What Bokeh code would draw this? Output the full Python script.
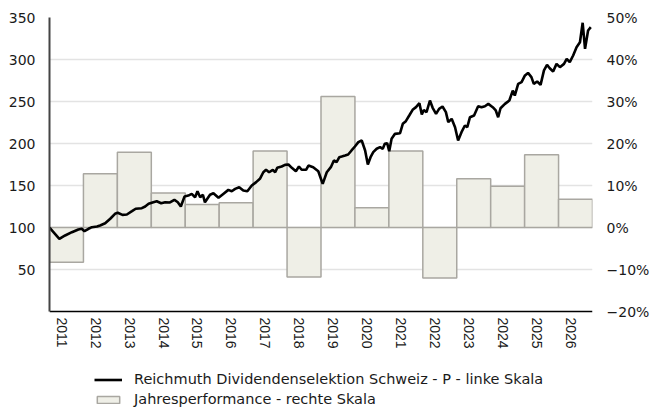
from bokeh.plotting import figure
from bokeh.models import Range1d, LinearAxis, FixedTicker, Legend, LegendItem, ColumnDataSource
from bokeh.embed import file_html
from bokeh.resources import INLINE
import math

# Annual performance (right scale, %)
years = [2011, 2012, 2013, 2014, 2015, 2016, 2017, 2018, 2019, 2020, 2021, 2022, 2023, 2024, 2025, 2026]
perf = [-8.3, 12.8, 17.9, 8.2, 5.5, 5.9, 18.2, -11.8, 31.2, 4.7, 18.2, -12.0, 11.6, 9.8, 17.3, 6.7]

# Fund price (left scale), dates as decimal years
line_t = [2011.00, 2011.29, 2011.46, 2011.66, 2011.85, 2011.95, 2012.03, 2012.15, 2012.25, 2012.40,
          2012.49, 2012.64, 2012.79, 2012.93, 2013.01, 2013.15, 2013.28, 2013.43, 2013.54, 2013.72,
          2013.82, 2013.92, 2014.06, 2014.16, 2014.29, 2014.41, 2014.55, 2014.68, 2014.78, 2014.87,
          2014.98, 2015.09, 2015.19, 2015.29, 2015.36, 2015.44, 2015.52, 2015.58, 2015.73, 2015.83,
          2015.98, 2016.12, 2016.27, 2016.37, 2016.47, 2016.59, 2016.71, 2016.83, 2016.96, 2017.09,
          2017.20, 2017.30, 2017.38, 2017.47, 2017.58, 2017.65, 2017.71, 2017.84, 2017.94, 2018.04,
          2018.14, 2018.26, 2018.35, 2018.43, 2018.56, 2018.63, 2018.77, 2018.92, 2019.05, 2019.17,
          2019.29, 2019.38, 2019.46, 2019.54, 2019.61, 2019.71, 2019.80, 2019.90, 2020.00, 2020.10,
          2020.20, 2020.30, 2020.38, 2020.46, 2020.54, 2020.64, 2020.74, 2020.82, 2020.88, 2020.95,
          2021.01, 2021.08, 2021.18, 2021.33, 2021.41, 2021.50, 2021.60, 2021.70, 2021.80, 2021.90,
          2021.97, 2022.03, 2022.11, 2022.21, 2022.29, 2022.39, 2022.48, 2022.58, 2022.68, 2022.75,
          2022.85, 2022.95, 2023.04, 2023.14, 2023.24, 2023.31, 2023.39, 2023.51, 2023.63, 2023.73,
          2023.83, 2023.93, 2024.06, 2024.15, 2024.22, 2024.29, 2024.42, 2024.55, 2024.65, 2024.71,
          2024.81, 2024.91, 2025.01, 2025.10, 2025.20, 2025.27, 2025.37, 2025.47, 2025.57, 2025.66,
          2025.74, 2025.84, 2025.94, 2026.04, 2026.16, 2026.24, 2026.33, 2026.43, 2026.53, 2026.63,
          2026.71, 2026.78, 2026.87, 2026.95]
line_v = [100.0, 86.5, 90.5, 94.4, 97.6, 98.5, 95.6, 98.5, 100.4, 101.2,
          102.4, 105.0, 110.4, 116.3, 117.5, 115.0, 115.5, 119.4, 122.3, 123.0,
          125.0, 128.2, 130.1, 131.3, 128.9, 130.1, 129.8, 133.0, 130.0, 125.0,
          137.0, 138.0, 140.0, 136.0, 143.2, 136.0, 139.0, 130.0, 139.0, 140.8,
          135.4, 140.0, 144.8, 143.2, 146.0, 148.0, 144.0, 143.2, 150.0, 154.0,
          158.0, 165.8, 168.7, 165.8, 168.7, 165.8, 171.0, 172.6, 174.6, 175.0,
          171.0, 167.0, 172.6, 168.7, 168.7, 173.8, 171.8, 167.0, 152.0, 165.8,
          171.8, 179.8, 177.8, 183.7, 184.5, 185.7, 186.9, 191.7, 196.4, 201.6,
          203.6, 191.7, 175.0, 183.7, 189.7, 193.7, 195.6, 193.7, 199.6, 200.4,
          190.8, 205.6, 211.5, 212.3, 223.4, 226.6, 233.3, 240.1, 243.3, 248.0,
          234.5, 240.0, 237.3, 251.2, 242.5, 235.3, 241.3, 244.0, 237.3, 225.4,
          229.4, 219.4, 203.6, 213.5, 221.4, 219.4, 231.3, 233.3, 244.4, 243.2,
          244.4, 247.2, 243.2, 239.3, 231.3, 242.0, 247.2, 251.2, 263.0, 257.0,
          271.0, 273.0, 281.0, 284.0, 279.0, 271.0, 273.8, 269.8, 287.0, 293.7,
          289.6, 285.7, 294.8, 290.9, 294.8, 300.8, 296.8, 304.8, 314.6, 320.6,
          343.7, 312.7, 334.5, 338.5]

left_ticks = [50, 100, 150, 200, 250, 300, 350]
right_ticks = [-20, -10, 0, 10, 20, 30, 40, 50]
right_labels = ["\u221220%", "\u221210%", "0%", "10%", "20%", "30%", "40%", "50%"]

FONT = "DejaVu Sans"
XFONT = "Liberation Sans"
TXT = "#1a1a1a"

# x coordinate is shifted so that the year labels sit at integer ticks
SHIFT = 0.36

# frame runs to the bottom of the page; the value axes are drawn only over 0..350 / -20..50 %
W, H = 652, 407
TOP, LEFT, RIGHT = 17, 49, 60
PLOT_H = 294                      # height of the 0..350 band
LOW = 350.0 * (H - TOP - PLOT_H) / PLOT_H   # extra room below 0 for labels and legend
PCT_LOW = 70.0 * (H - TOP - PLOT_H) / PLOT_H

p = figure(width=W, height=H, output_backend="svg", toolbar_location=None,
           x_range=Range1d(years[0] - SHIFT, years[-1] + 1 - SHIFT),
           y_range=Range1d(-LOW, 350),
           min_border_left=LEFT, min_border_right=RIGHT, min_border_top=TOP, min_border_bottom=0)
p.outline_line_color = None
p.extra_y_ranges = {"pct": Range1d(-20 - PCT_LOW, 50)}

bar_src = ColumnDataSource(dict(x=[y + 0.5 - SHIFT for y in years], top=perf))
bars = p.vbar(x="x", top="top", bottom=0, width=1.0, source=bar_src, y_range_name="pct",
              fill_color="#efefe7", line_color="#a9a7a1", line_width=1.5)

line_src = ColumnDataSource(dict(t=[t - SHIFT for t in line_t], v=line_v))
ln = p.line(x="t", y="v", source=line_src, line_color="black", line_width=2.6)

# grid
p.xgrid.visible = False
p.ygrid.ticker = FixedTicker(ticks=left_ticks)
p.ygrid.grid_line_color = "#e3e3e3"
p.ygrid.grid_line_width = 1.5

# left axis
ya = p.yaxis[0]
ya.ticker = FixedTicker(ticks=left_ticks)
ya.bounds = (0, 350)
ya.axis_line_color = "#444444"
ya.axis_line_width = 2
ya.major_tick_line_color = None
ya.minor_tick_line_color = None
ya.major_label_text_font = FONT
ya.major_label_text_font_size = "14px"
ya.major_label_text_color = TXT
ya.major_label_standoff = 8

# right axis
ra = LinearAxis(y_range_name="pct", ticker=FixedTicker(ticks=right_ticks), bounds=(-20, 50))
ra.major_label_overrides = {t: l for t, l in zip(right_ticks, right_labels)}
ra.axis_line_color = None
ra.major_tick_line_color = None
ra.minor_tick_line_color = None
ra.major_label_text_font = FONT
ra.major_label_text_font_size = "14px"
ra.major_label_text_color = TXT
ra.major_label_standoff = 8
p.add_layout(ra, "right")

# bottom axis, drawn at the zero line of the left scale
xa = p.xaxis[0]
xa.fixed_location = 0
xa.ticker = FixedTicker(ticks=years)
xa.major_label_orientation = -math.pi / 2
xa.axis_line_color = "black"
xa.axis_line_width = 1.5
xa.major_tick_line_color = None
xa.minor_tick_line_color = None
xa.major_tick_out = 0
xa.major_tick_in = 0
xa.major_label_text_font = XFONT
xa.major_label_text_font_size = "14px"
xa.major_label_text_color = TXT
xa.major_label_standoff = 6

legend = Legend(items=[
    LegendItem(label="Reichmuth Dividendenselektion Schweiz - P - linke Skala", renderers=[ln]),
    LegendItem(label="Jahresperformance - rechte Skala", renderers=[bars]),
], location=(45, 0), orientation="vertical", ncols=1)
legend.label_text_font = FONT
legend.label_text_font_size = "14.5px"
legend.label_text_color = TXT
legend.border_line_color = None
legend.background_fill_alpha = 0
legend.glyph_width = 28
legend.glyph_height = 9
legend.label_height = 16
legend.spacing = 4
legend.padding = 3
legend.margin = 0
legend.label_standoff = 12
p.add_layout(legend, "center")

open("out.html", "w").write(file_html(p, INLINE))
